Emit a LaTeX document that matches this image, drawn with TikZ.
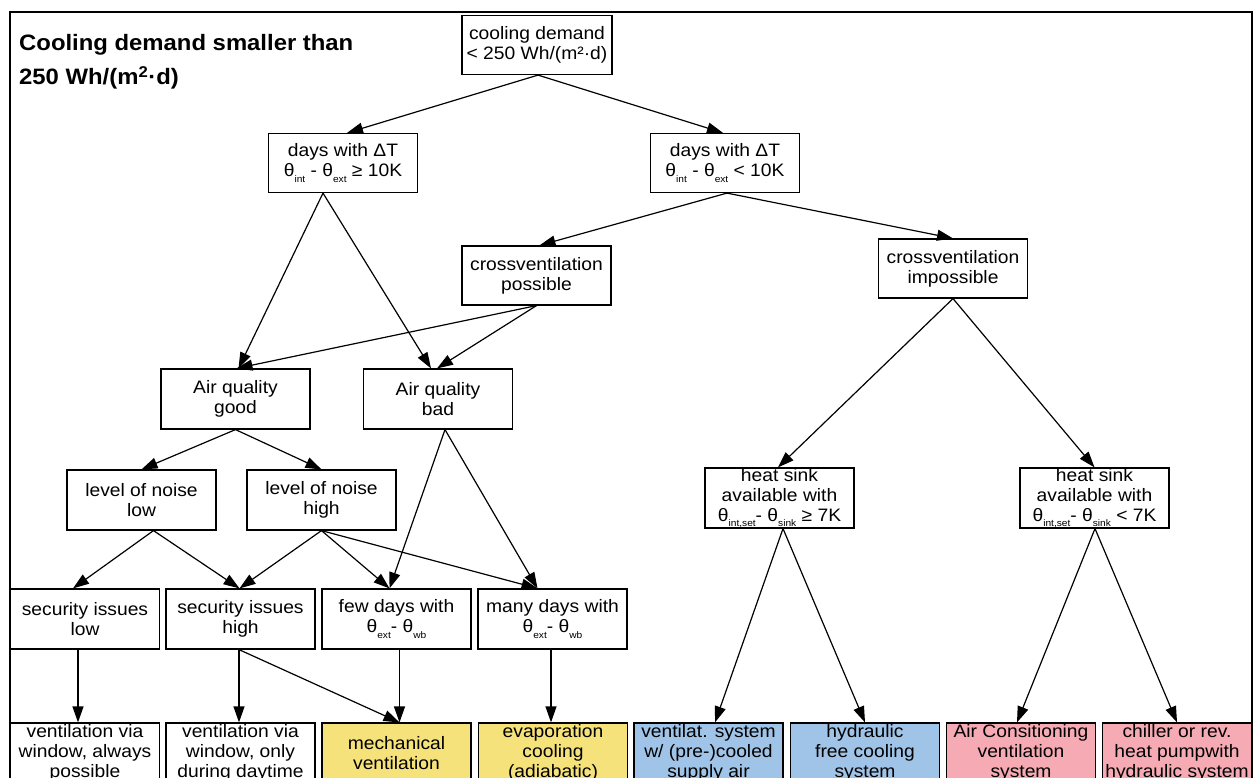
\documentclass[tikz,border=0pt]{standalone}
\usepackage{fontspec}
\setmainfont{Liberation Sans}[FakeStretch=1.07]
\usetikzlibrary{arrows.meta,calc}
\newcommand{\lowidx}[1]{\raisebox{-0.55ex}{\fontsize{9.5}{10}\selectfont #1}}
\definecolor{yel}{RGB}{246,226,122}
\definecolor{blu}{RGB}{160,196,232}
\definecolor{pnk}{RGB}{245,170,180}
\begin{document}
\begin{tikzpicture}[x=1pt,y=-1pt,
  box/.style={draw, line width=1.2pt, minimum width=149pt, minimum height=60pt,
    inner sep=0pt, align=center, font=\fontsize{18}{20}\selectfont, fill=white},
  arr/.style={line width=1.2pt, -{Triangle[length=16pt,width=11pt]}},
  ttl/.style={anchor=base west, inner sep=0pt, font=\bfseries\fontsize{22.3}{26}\selectfont},
  frame/.style={draw, line width=2pt}]
\useasboundingbox (0,0) rectangle (1256,778);
\draw[frame] (10,12) rectangle (1252,800);
\node[ttl] (title1) at (19,51) {Cooling demand smaller than};
\node[ttl] (title2) at (19,85) {250 Wh/(m\textsuperscript{2}·d)};

% nodes
\node[box, minimum width=150pt, minimum height=59pt] (root) at (537,45) {cooling demand\\< 250 Wh/(m²·d)};
\node[box, minimum height=59pt] (D1) at (343,163) {days with ΔT\\θ\lowidx{int} - θ\lowidx{ext} ≥ 10K};
\node[box, minimum height=59pt] (D2) at (725,163) {days with ΔT\\θ\lowidx{int} - θ\lowidx{ext} < 10K};
\node[box, minimum height=59pt] (CVp) at (536.5,275.5) {crossventilation\\possible};
\node[box, minimum height=59pt] (CVi) at (953,268.5) {crossventilation\\impossible};
\node[box] (AQg) at (235.5,399) {Air quality\\good};
\node[box] (AQb) at (438,399) {Air quality\\bad};
\node[box] (NL) at (141.5,500) {level of noise\\low};
\node[box] (NH) at (321.5,500) {level of noise\\high};
\node[box] (SL) at (85,619) {security issues\\low};
\node[box] (SH) at (240.5,619) {security issues\\high};
\node[box] (FD) at (396.5,619) {few days with\\θ\lowidx{ext}- θ\lowidx{wb}};
\node[box] (MD) at (552.5,619) {many days with\\θ\lowidx{ext}- θ\lowidx{wb}};
\node[box] (HS1) at (779.5,498) {heat sink\\available with\\θ\lowidx{int,set}- θ\lowidx{sink} ≥ 7K};
\node[box] (HS2) at (1094.5,498) {heat sink\\available with\\θ\lowidx{int,set}- θ\lowidx{sink} < 7K};

\node[box] (B1) at (85,753) {ventilation via\\window, always\\possible};
\node[box] (B2) at (240.5,753) {ventilation via\\window, only\\during daytime};
\node[box, fill=yel] (B3) at (396.5,753) {mechanical\\ventilation};
\node[box, fill=yel] (B4) at (553,753) {evaporation\\cooling\\(adiabatic)};
\node[box, fill=blu] (B5) at (708.5,753) {ventilat. system\\w/ (pre-)cooled\\supply air};
\node[box, fill=blu] (B6) at (865,753) {hydraulic\\free cooling\\system};
\node[box, fill=pnk] (B7) at (1021,753) {Air Consitioning\\ventilation\\system};
\node[box, fill=pnk] (B8) at (1177,753) {chiller or rev.\\heat pumpwith\\hydraulic system};

% edges
\draw[arr] ([xshift=1pt]root.south) -- ([xshift=4pt]D1.north);
\draw[arr] ([xshift=1pt]root.south) -- ([xshift=-2pt]D2.north);
\draw[arr] ([xshift=-20pt]D1.south) -- ([xshift=3pt]AQg.north);
\draw[arr] ([xshift=-20pt]D1.south) -- ([xshift=-7pt]AQb.north);
\draw[arr] ([xshift=2pt]D2.south) -- ([xshift=3pt]CVp.north);
\draw[arr] ([xshift=2pt]D2.south) -- (CVi.north);
\draw[arr] (CVp.south) -- ([xshift=1pt]AQg.north);
\draw[arr] (CVp.south) -- ([xshift=-1pt]AQb.north);
\draw[arr] (CVi.south) -- ([xshift=-1.5pt]HS1.north);
\draw[arr] (CVi.south) -- (HS2.north);
\draw[arr] (AQg.south) -- (NL.north);
\draw[arr] (AQg.south) -- (NH.north);
\draw[arr] ([xshift=12pt]NL.south) -- ([xshift=-12pt]SL.north);
\draw[arr] ([xshift=12pt]NL.south) -- ([xshift=-1pt]SH.north);
\draw[arr] (NH.south) -- ([xshift=-1pt]SH.north);
\draw[arr] (NH.south) -- ([xshift=-7pt]FD.north);
\draw[arr] (NH.south) -- ([xshift=-15pt]MD.north);
\draw[arr] ([xshift=7pt]AQb.south) -- ([xshift=-7pt]FD.north);
\draw[arr] ([xshift=7pt]AQb.south) -- ([xshift=-15pt]MD.north);
\draw[arr] ([xshift=-7pt]SL.south) -- ([xshift=-7pt]B1.north);
\draw[arr] ([xshift=-1.5pt]SH.south) -- ([xshift=-1.5pt]B2.north);
\draw[arr] ([xshift=-1.5pt]SH.south) -- ([xshift=3pt]B3.north);
\draw[arr] ([xshift=3pt]FD.south) -- ([xshift=3pt]B3.north);
\draw[arr] ([xshift=-1.5pt]MD.south) -- ([xshift=-2pt]B4.north);
\draw[arr] ([xshift=3.5pt]HS1.south) -- ([xshift=6.5pt]B5.north);
\draw[arr] ([xshift=3.5pt]HS1.south) -- (B6.north);
\draw[arr] ([xshift=0.5pt]HS2.south) -- ([xshift=-4pt]B7.north);
\draw[arr] ([xshift=0.5pt]HS2.south) -- (B8.north);
\end{tikzpicture}
\end{document}
